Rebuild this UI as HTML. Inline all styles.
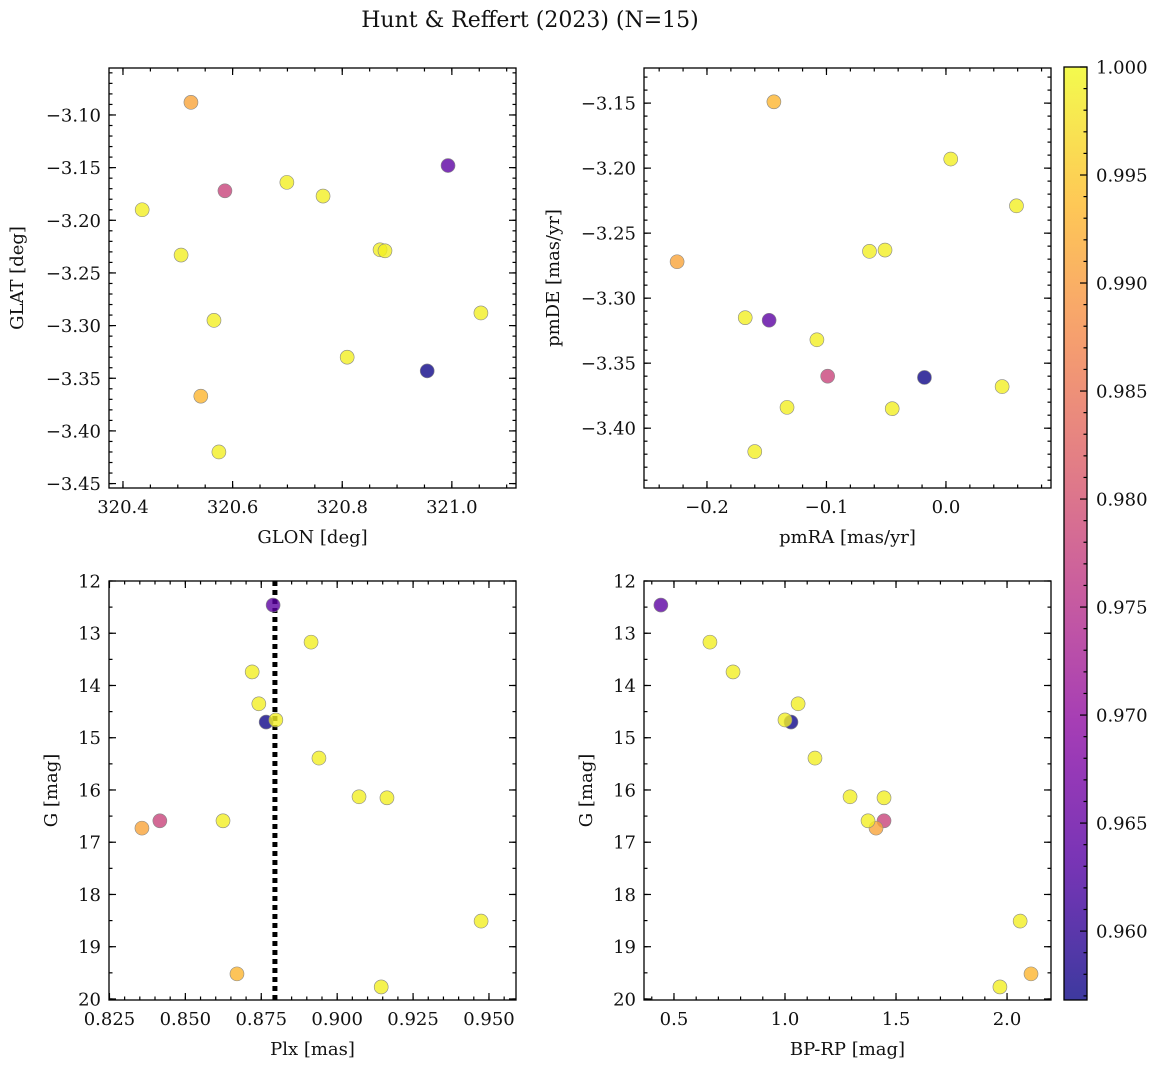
<!DOCTYPE html>
<html><head><meta charset="utf-8"><style>
body{margin:0;background:#fff;}
svg text{font-family:"DejaVu Serif","Liberation Serif",serif;fill:#111;}
</style></head><body>
<svg id="fig" width="1161" height="1067" xmlns="http://www.w3.org/2000/svg">
<text x="530" y="27" font-size="22" text-anchor="middle">Hunt &amp; Reffert (2023) (N=15)</text>
</svg>
<script>
const glon=[320.993,320.955,320.586,320.524,320.542,320.699,320.765,320.435,320.869,320.506,320.878,320.566,321.053,320.809,320.575];
const glat=[-3.148,-3.343,-3.172,-3.088,-3.367,-3.164,-3.177,-3.190,-3.228,-3.233,-3.229,-3.295,-3.288,-3.330,-3.420];
const pmra=[-0.148,-0.018,-0.099,-0.225,-0.144,0.004,0.059,-0.064,-0.051,-0.168,-0.108,-0.133,-0.045,0.047,-0.160];
const pmde=[-3.317,-3.361,-3.360,-3.272,-3.149,-3.193,-3.229,-3.264,-3.263,-3.315,-3.332,-3.384,-3.385,-3.368,-3.418];
const plx=[0.8789,0.8766,0.8416,0.8357,0.867,0.8914,0.872,0.8742,0.8798,0.894,0.9072,0.9164,0.8624,0.9474,0.9145];
const gmag=[12.46,14.70,16.59,16.73,19.52,13.17,13.74,14.35,14.66,15.39,16.13,16.15,16.59,18.51,19.77];
const bprp=[0.441,1.027,1.446,1.410,2.108,0.662,0.766,1.059,1.0,1.135,1.293,1.446,1.374,2.059,1.968];
const prob=[0.964,0.957,0.978,0.991,0.993,0.999,0.999,0.999,0.999,0.999,0.999,0.999,0.999,0.999,0.999];
const plxMedian=0.8795;

const NS="http://www.w3.org/2000/svg";
const svg=document.getElementById('fig');
function mk(tag,attrs,parent){const e=document.createElementNS(NS,tag);for(const k in attrs)e.setAttribute(k,attrs[k]);(parent||svg).appendChild(e);return e;}
const plasma=[[13,8,135],[84,2,163],[139,10,165],[185,50,137],[219,92,104],[244,136,73],[254,188,43],[240,249,33]];
function cmap(t){t=Math.max(0,Math.min(1,t));const s=t*(plasma.length-1);const i=Math.min(plasma.length-2,Math.floor(s));const f=s-i;const a=plasma[i],b=plasma[i+1];return `rgb(${a.map((v,k)=>Math.round(v+(b[k]-v)*f)).join(',')})`;}
const cmin=0.95681,cmax=1.0;
function cnorm(v){return (v-cmin)/(cmax-cmin);}
function fmt(v,d){const s=Math.abs(v).toFixed(d);return (v<-1e-9?'\u2212':'')+s;}

function panel(o){
  const g=mk('g',{});
  
  
  const X=v=>o.x0+(v-o.xmin)/(o.xmax-o.xmin)*(o.x1-o.x0);
  const Y=o.yinv?(v=>o.y0+(v-o.ymin)/(o.ymax-o.ymin)*(o.y1-o.y0)):(v=>o.y1-(v-o.ymin)/(o.ymax-o.ymin)*(o.y1-o.y0));
  const tg=mk('g',{stroke:'#000','stroke-width':1.2},g);
  function ticksX(step,len,labels,dec){
    const s=Math.ceil(o.xmin/step-1e-6);
    for(let k=s;k*step<=o.xmax+1e-9;k++){const v=k*step;const px=X(v);
      mk('line',{x1:px,y1:o.y1,x2:px,y2:o.y1-len},tg);mk('line',{x1:px,y1:o.y0,x2:px,y2:o.y0+len},tg);
      if(labels){const t=mk('text',{x:px,y:o.y1+25,'font-size':18,'text-anchor':'middle'},g);t.textContent=fmt(v,dec);
        }}
  }
  function ticksY(step,len,labels,dec){
    const lo=Math.min(o.ymin,o.ymax),hi=Math.max(o.ymin,o.ymax);
    const s=Math.ceil(lo/step-1e-6);
    for(let k=s;k*step<=hi+1e-9;k++){const v=k*step;const py=Y(v);
      mk('line',{x1:o.x0,y1:py,x2:o.x0+len,y2:py},tg);mk('line',{x1:o.x1,y1:py,x2:o.x1-len,y2:py},tg);
      if(labels){const t=mk('text',{x:o.x0-8,y:py+6.5,'font-size':18,'text-anchor':'end'},g);t.textContent=fmt(v,dec);
        }}
  }
  ticksX(o.xminor,3.5,false);ticksX(o.xmajor,7,true,o.xdec);
  ticksY(o.yminor,3.5,false);ticksY(o.ymajor,7,true,o.ydec);
  if(o.vline!==undefined){const l=mk('line',{x1:X(o.vline),x2:X(o.vline),y1:o.y0,y2:o.y1,stroke:'#000','stroke-width':5,'stroke-dasharray':'5,4'},g);
    }
  for(let i=0;i<o.xs.length;i++){
    const c=mk('circle',{cx:X(o.xs[i]),cy:Y(o.ys[i]),r:7,fill:cmap(cnorm(prob[i])),'fill-opacity':0.8,stroke:'#888','stroke-width':0.6},g);
    
  }
  const fr=mk('rect',{x:o.x0,y:o.y0,width:o.x1-o.x0,height:o.y1-o.y0,fill:'none',stroke:'#000','stroke-width':1.3},g);
  
  const xl=mk('text',{x:(o.x0+o.x1)/2,y:o.y1+55,'font-size':18,'text-anchor':'middle'},g);xl.textContent=o.xlabel;
  
  const yc=(o.y0+o.y1)/2;
  const yl=mk('text',{x:o.ylx,y:yc,'font-size':18,'text-anchor':'middle',transform:`rotate(-90 ${o.ylx} ${yc})`},g);yl.textContent=o.ylabel;
  
}
panel({name:'glon-glat-panel',x0:109,x1:516,y0:68,y1:488,xmin:320.3745,xmax:321.117,ymin:-3.4542,ymax:-3.0554,xmajor:0.2,xminor:0.05,xdec:1,ymajor:0.05,yminor:0.01,ydec:2,xs:glon,ys:glat,xlabel:'GLON [deg]',ylabel:'GLAT [deg]',ylx:23});
panel({name:'proper-motion-panel',x0:644,x1:1051,y0:68,y1:488,xmin:-0.2527,xmax:0.0879,ymin:-3.446,ymax:-3.123,xmajor:0.1,xminor:0.02,xdec:1,ymajor:0.05,yminor:0.01,ydec:2,xs:pmra,ys:pmde,xlabel:'pmRA [mas/yr]',ylabel:'pmDE [mas/yr]',ylx:559});
panel({name:'parallax-magnitude-panel',x0:109,x1:516,y0:581,y1:1000,xmin:0.82485,xmax:0.9589,ymin:12,ymax:20.02,yinv:true,xmajor:0.025,xminor:0.005,xdec:3,ymajor:1,yminor:0.5,ydec:0,xs:plx,ys:gmag,xlabel:'Plx [mas]',ylabel:'G [mag]',ylx:57,vline:plxMedian});
panel({name:'color-magnitude-panel',x0:644,x1:1051,y0:581,y1:1000,xmin:0.365,xmax:2.198,ymin:12,ymax:20.02,yinv:true,xmajor:0.5,xminor:0.1,xdec:1,ymajor:1,yminor:0.5,ydec:0,xs:bprp,ys:gmag,xlabel:'BP-RP [mag]',ylabel:'G [mag]',ylx:592});

const cb=mk('g',{});
const defs=mk('defs',{},cb);const lg=mk('linearGradient',{id:'pl',x1:0,y1:1,x2:0,y2:0},defs);
for(let i=0;i<=20;i++)mk('stop',{offset:i/20,'stop-color':cmap(i/20)},lg);
const cx0=1064,cx1=1087,cy0=67,cy1=1000;
mk('rect',{x:cx0,y:cy0,width:cx1-cx0,height:cy1-cy0,fill:'url(#pl)','fill-opacity':0.8},cb);
mk('rect',{x:cx0,y:cy0,width:cx1-cx0,height:cy1-cy0,fill:'none',stroke:'#000','stroke-width':1.3},cb);
const CY=v=>cy1-(v-cmin)/(cmax-cmin)*(cy1-cy0);
const cbTicks=[0.960,0.965,0.970,0.975,0.980,0.985,0.990,0.995,1.000];
for(let k=957;k<=1000;k++){const py=CY(k/1000);mk('line',{x1:cx1,x2:cx1-(k%5==0?7:3.5),y1:py,y2:py,stroke:'#000','stroke-width':1.2},cb);}
cbTicks.forEach(v=>{const t=mk('text',{x:cx1+9,y:CY(v)+6.5,'font-size':18},cb);t.textContent=v.toFixed(3);
  });
</script>
</body></html>
